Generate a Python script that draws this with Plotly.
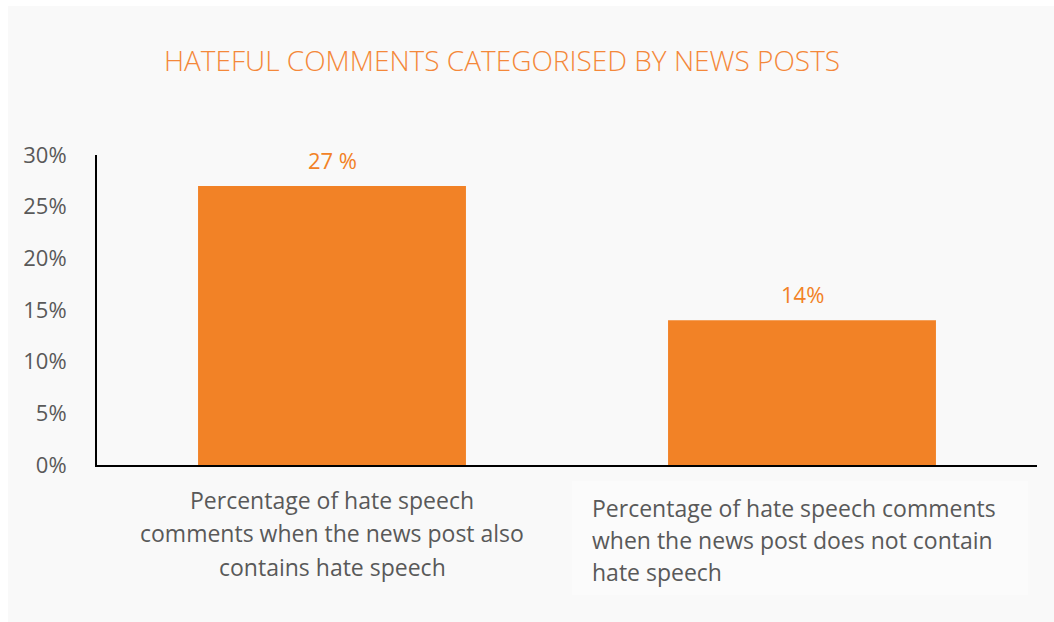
import plotly.graph_objects as go

# Chart data
categories = ["with_hate", "without_hate"]
category_lines = [
    ["Percentage of hate speech",
     "comments when the news post also",
     "contains hate speech"],
    ["Percentage of hate speech comments",
     "when the news post does not contain",
     "hate speech"],
]
values = [0.27, 0.14]
value_labels = ["27 %", "14%"]
tick_vals = [0, 0.05, 0.10, 0.15, 0.20, 0.25, 0.30]
tick_text = ["0%", "5%", "10%", "15%", "20%", "25%", "30%"]

BAR = "#F28226"
TITLE = "#F4883A"
GREY = "#595959"
FONT = "Open Sans"

W, H = 1054, 622
L, R, T, B = 97, 17, 155, 157
pw, ph = W - L - R, H - T - B


def px_x(p):
    return (p - L) / pw


def px_y(p):
    return (H - B - p) / ph


fig = go.Figure(
    go.Bar(
        x=categories,
        y=values,
        marker=dict(color=BAR, line=dict(width=0)),
        width=0.57,
        hoverinfo="skip",
    )
)

# value labels above bars
for c, v, t in zip(categories, values, value_labels):
    fig.add_annotation(
        x=c, y=v, text=t, showarrow=False, yanchor="middle", yshift=26,
        font=dict(family=FONT, size=22, color=BAR),
    )

# category labels, one annotation per line for fixed line spacing
for line, yc in zip(category_lines[0], [500, 533, 567]):
    fig.add_annotation(
        x=px_x(332), y=px_y(yc), xref="paper", yref="paper",
        text=line, showarrow=False, xanchor="center", yanchor="middle",
        font=dict(family=FONT, size=23, color=GREY),
    )
for line, yc in zip(category_lines[1], [508, 540, 572]):
    fig.add_annotation(
        x=px_x(590), y=px_y(yc), xref="paper", yref="paper",
        text=line, showarrow=False, xanchor="left", yanchor="middle",
        font=dict(family=FONT, size=23, color=GREY),
    )

# panel background and label panel
fig.add_shape(
    type="rect", xref="paper", yref="paper", layer="below",
    x0=px_x(8), x1=px_x(W + 5), y0=px_y(H + 5), y1=px_y(6),
    fillcolor="#f9f9f9", line=dict(width=0),
)
fig.add_shape(
    type="rect", xref="paper", yref="paper", layer="below",
    x0=px_x(572), x1=px_x(1028), y0=px_y(595), y1=px_y(481),
    fillcolor="#fbfbfb", line=dict(width=0),
)

fig.update_layout(
    width=W, height=H,
    margin=dict(l=L, r=R, t=T, b=B),
    paper_bgcolor="white",
    plot_bgcolor="rgba(0,0,0,0)",
    showlegend=False,
    title=dict(
        text="HATEFUL COMMENTS CATEGORISED BY NEWS POSTS",
        x=502 / W, xanchor="center",
        y=1 - 61 / H, yanchor="middle",
        font=dict(family=FONT, size=28, color=TITLE, weight=300),
    ),
    xaxis=dict(
        showticklabels=False, showgrid=False, zeroline=False,
        showline=True, linecolor="black", linewidth=2, ticks="",
        range=[-0.5, 1.5],
    ),
    yaxis=dict(
        range=[0, 0.30], tickvals=tick_vals, ticktext=tick_text,
        showgrid=False, zeroline=False, showline=True,
        linecolor="black", linewidth=2, ticks="", ticklabelstandoff=24,
        tickfont=dict(family=FONT, size=22, color=GREY),
    ),
)

fig.write_html("out.html")
